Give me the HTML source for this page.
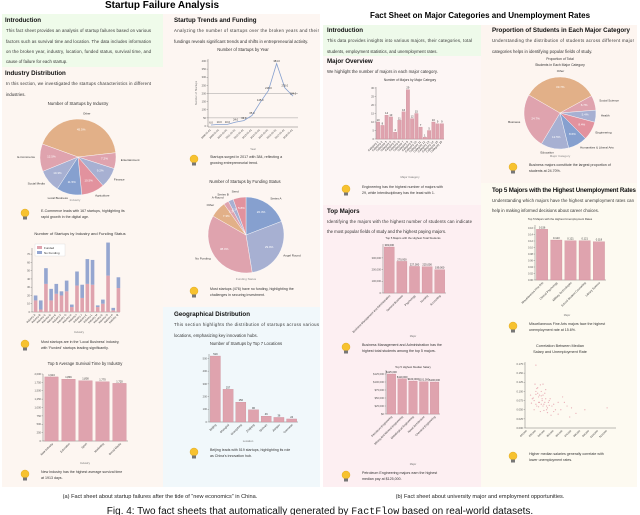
<!DOCTYPE html>
<html><head><meta charset="utf-8">
<style>
html,body{margin:0;padding:0;background:#fff;}
svg{display:block;font-family:"Liberation Sans",sans-serif;}
.h{font-weight:bold;font-size:6.2px;fill:#111;}
.p{font-size:4.3px;fill:#333;}
.s{font-size:3.6px;fill:#333;}
.t{font-size:4.4px;fill:#333;text-anchor:middle;}
.tk{font-size:2.6px;fill:#555;}
</style></head>
<body>
<svg id="root" width="640" height="515" viewBox="0 0 640 515" xmlns="http://www.w3.org/2000/svg">
<rect x="2" y="14" width="161" height="53" fill="#effbea"/>
<rect x="2" y="67" width="161" height="420" fill="#fdf6f1"/>
<rect x="163" y="14" width="157" height="293" fill="#fdf6f2"/>
<rect x="163" y="307" width="157" height="180" fill="#f1f8fb"/>
<rect x="323" y="25" width="158" height="31" fill="#eefaea"/>
<rect x="323" y="56" width="158" height="149" fill="#fdf6f5"/>
<rect x="323" y="205" width="158" height="282" fill="#fdeff2"/>
<rect x="481" y="25" width="156" height="158" fill="#fdf5f0"/>
<rect x="481" y="183" width="156" height="304" fill="#fdfaf1"/>

<text x="162" y="8" font-size="10" font-weight="bold" text-anchor="middle">Startup Failure Analysis</text>
<text x="480" y="18" font-size="8" font-weight="bold" text-anchor="middle">Fact Sheet on Major Categories and Unemployment Rates</text>

<text class="h" x="5" y="22">Introduction</text>
<g class="p">
<text x="6" y="32" textLength="145">This fact sheet provides an analysis of startup failures based on various</text>
<text x="6" y="43" textLength="145">factors such as survival time and location. The data includes information</text>
<text x="6" y="53" textLength="145">on the broken year, industry, location, funded status, survival time, and</text>
<text x="6" y="63">cause of failure for each startup.</text>
</g>
<text class="h" x="5" y="75">Industry Distribution</text>
<g class="p">
<text x="6" y="85" textLength="145">In this section, we investigated the startups characteristics in different</text>
<text x="6" y="96">industries.</text>
</g>
<text class="h" x="174" y="22">Startup Trends and Funding</text>
<g class="p">
<text x="174" y="32" textLength="145">Analyzing the number of startups over the broken years and their</text>
<text x="174" y="43">fundings reveals significant trends and shifts in entrepreneurial activity.</text>
</g>
<text class="h" x="174" y="316">Geographical Distribution</text>
<g class="p">
<text x="174" y="326" textLength="145">This section highlights the distribution of startups across various</text>
<text x="174" y="337">locations, emphasizing key innovation hubs.</text>
</g>

<text class="h" x="327" y="32">Introduction</text>
<g class="p">
<text x="327" y="42" textLength="145">This data provides insights into various majors, their categories, total</text>
<text x="327" y="53">students, employment statistics, and unemployment rates.</text>
</g>
<text class="h" x="327" y="63">Major Overview</text>
<text class="p" x="327" y="73">We highlight the number of majors in each major category.</text>
<text class="h" x="327" y="213">Top Majors</text>
<g class="p">
<text x="327" y="223" textLength="145">Identifying the majors with the highest number of students can indicate</text>
<text x="327" y="233">the most popular fields of study and the highest paying majors.</text>
</g>
<text class="h" x="492" y="32" textLength="138">Proportion of Students in Each Major Category</text>
<g class="p">
<text x="492" y="42" textLength="142">Understanding the distribution of students across different major</text>
<text x="492" y="53">categories helps in identifying popular fields of study.</text>
</g>
<text class="h" x="492" y="192" textLength="144">Top 5 Majors with the Highest Unemployment Rates</text>
<g class="p">
<text x="492" y="202" textLength="142">Understanding which majors have the highest unemployment rates can</text>
<text x="492" y="212">help in making informed decisions about career choices.</text>
</g>

<text x="160" y="498" font-size="5.6" text-anchor="middle" fill="#222">(a) Fact sheet about startup failures after the tide of “new economics” in China.</text>
<text x="480" y="498" font-size="5.6" text-anchor="middle" fill="#222">(b) Fact sheet about university major and employment opportunities.</text>
<text x="320" y="514" font-size="10" text-anchor="middle" fill="#111">Fig. 4: Two fact sheets that automatically generated by <tspan font-family="Liberation Mono">FactFlow</tspan> based on real-world datasets.</text>
<g id="charts"></g>
</svg>
<script>
const industryLabels=["Other","Entertainment","Finance","Agriculture","Local Business","Social Media","E-Commerce"];
const industryPct=[45.5,7.2,9.2,10.5,11.5,10.3,12.5];
const stackCats=["A","B","C","D","E","F","G","H","I","J","K","L","M","N","O","P","Q"];
const stackFunded=[14,3,34,14,22,20,25,6,32,17,34,33,6,10,44,2,29];
const stackNoFund=[6,11,19,14,12,5,13,3,17,16,30,30,2,5,40,3,13];
const survivalCats=["New Industry","Education","Sport","Marketing","Social Media"];
const survivalVals=[1913,1846,1800,1770,1720];
const yearCats=["2008","2009","2010","2011","2012","2013","2014","2015","2016","2017","2018"];
const yearVals=[6,10,10,24,33,65,145,218,384,235,184];
const fundLabels=["Series A","Angel Round","No Funding","Other","A-Round","Series B","Seed"];
const fundPct=[20.3,29.9,38.0,7.3,2.3,2.3,5.8];
const locCats=["Beijing","Shanghai","Guangdong","Zhejiang","Sichuan","Jiangsu","Overseas"];
const locVals=[519,257,156,96,46,36,24];
const majorCatVals=[10,8,14,13,4,11,16,29,12,15,7,1,5,10,9,9];
const propLabels=["Other","Social Science","Health","Engineering","Humanities & Liberal Arts","Education","Business"];
const propPct=[33.7,6.7,5.4,8.4,8.6,12.5,24.7];
const topMajorsVals=[393,270,227,225,199];
const payVals=[125000,110000,103000,101000,100000];
const unempVals=[0.156,0.123,0.121,0.121,0.118];
const scatSalary=[30,24,26,28,30,31,32,33,34,35,36,37,38,40,41,42,43,45,46,48,50,52,55,58,60,65,70,75,85,110,28,30,33,35,36,38,40,42,44,47,29,31,34,37,39,27,25,32,36,41,45,50,62,68,30,33,39,43,55,38];
const scatRate=[17.2,9,8,7.5,10,6,9.5,8.5,7,11.8,6.5,8,9,7,10.5,6,5.5,7.5,8,6,6.5,5,7,5,8.5,6,5.5,4,5,5.5,5,6.5,7,4.5,8.8,6,9.5,5,7,3.5,12,10.8,9,7.5,4.8,8.2,6.8,11,10,8,6.2,4.5,7,3,9.2,5.8,6.5,4.2,3.8,12];

const NS="http://www.w3.org/2000/svg";
const root=document.getElementById('charts');
function mk(tag,attrs,name,parent){
  const el=document.createElementNS(NS,tag);
  for(const k in attrs) el.setAttribute(k,attrs[k]);
  
  
  (parent||root).appendChild(el);return el;
}
function txt(x,y,s,size,name,extra){
  const a=Object.assign({x:x,y:y,'font-size':size,fill:'#333'},extra||{});
  const t=mk('text',a,name);t.textContent=s;return t;
}
const PINK="#dfa3ae",BLUE="#95a6d0",ORANGE="#e2b088",BLUE2="#86a0cf",RED="#e2929e",GREY="#a7b0d2";
function pie(cx,cy,r,vals,cols,labels,start,name){
  const sum=vals.reduce((a,b)=>a+b,0);let a0=start*Math.PI/180;
  vals.forEach((v,i)=>{
    const a1=a0+v/sum*2*Math.PI;
    const large=(a1-a0)>Math.PI?1:0;
    const d=`M${cx},${cy} L${cx+r*Math.cos(a0)},${cy+r*Math.sin(a0)} A${r},${r} 0 ${large} 1 ${cx+r*Math.cos(a1)},${cy+r*Math.sin(a1)} Z`;
    mk('path',{d:d,fill:cols[i],stroke:'#fff','stroke-width':0.4},name+'-slice');
    const m=(a0+a1)/2;
    txt(cx+r*0.7*Math.cos(m),cy+r*0.7*Math.sin(m),v.toFixed(1)+'%',3,name+'-pct',{'text-anchor':'middle',fill:'#fff'});
    const lx=cx+(r+5)*Math.cos(m),ly=cy+(r+5)*Math.sin(m);
    txt(lx,ly,labels[i],3,name+'-label',{'text-anchor':Math.cos(m)>0.1?'start':(Math.cos(m)<-0.1?'end':'middle')});
    a0=a1;
  });
}
function bulb(x,y,l1,l2,name){
  mk('circle',{cx:x,cy:y,r:4,fill:'#f7c22f',stroke:'#d9a21a','stroke-width':0.4},name+'-bulb-icon');
  mk('rect',{x:x-2,y:y+3.5,width:4,height:3,fill:'#777'},name+'-bulb-base');
  txt(x+16,y-1,l1,3.6,name+'-insight-line');
  txt(x+16,y+5,l2,3.6,name+'-insight-line');
}
function axes(x0,x1,yb,yt,name){
  mk('line',{x1:x0,y1:yb,x2:x1,y2:yb,stroke:'#555','stroke-width':0.4},name+'-x-axis');
  mk('line',{x1:x0,y1:yb,x2:x0,y2:yt,stroke:'#555','stroke-width':0.4},name+'-y-axis');
}
function yTicks(x0,yb,yt,max,ticks,fmt,name){
  ticks.forEach(v=>{const y=yb-(v/max)*(yb-yt);
    mk('line',{x1:x0-1.5,y1:y,x2:x0,y2:y,stroke:'#555','stroke-width':0.3},name+'-y-tick');
    txt(x0-2,y+0.9,fmt(v),2.6,name+'-y-tick-label',{'text-anchor':'end',fill:'#555'});});
}
function bars(x0,x1,yb,yt,max,vals,col,name,labels,fmt,rot){
  const n=vals.length,bw=(x1-x0)/n;
  vals.forEach((v,i)=>{const h=v/max*(yb-yt);const bx=x0+i*bw+bw*0.1;
    mk('rect',{x:bx,y:yb-h,width:bw*0.8,height:h,fill:col,stroke:'#c98794','stroke-width':0.3},name+'-bar');
    if(fmt) txt(bx+bw*0.4,yb-h-1,fmt(v),2.6,name+'-value-label',{'text-anchor':'middle'});
    if(labels){const lx=bx+bw*0.5,ly=yb+3;
      txt(lx,ly,labels[i],2.8,name+'-x-tick-label',{'text-anchor':'end',transform:`rotate(${rot||-45} ${lx} ${ly})`});}
  });
}
txt(78,105,"Number of Startups by Industry",4.4,"industry-pie-title",{'text-anchor':'middle'});
pie(78,157,38,industryPct,[ORANGE,PINK,GREY,RED,BLUE2,GREY,PINK],industryLabels,-160,"industry-pie");
txt(75,201,"Industry",3,"industry-pie-axis-title",{'text-anchor':'middle',fill:'#888'});
bulb(25,213,"E-Commerce leads with 167 startups, highlighting its","rapid growth in the digital age.","industry");

txt(80,235,"Number of Startups by Industry and Funding Status",4,"stacked-title",{'text-anchor':'middle'});
axes(32,120,312,248,"stacked");
yTicks(32,312,250,75,[0,10,20,30,40,50,60,70],v=>v,"stacked");
(function(){const n=stackCats.length,bw=88/n,max=75;
 stackCats.forEach((c,i)=>{const bx=33+i*bw+bw*0.15,w=bw*0.7;
  const hf=stackFunded[i]/max*62,hn=stackNoFund[i]/max*62;
  mk('rect',{x:bx,y:312-hf,width:w,height:hf,fill:PINK},'stacked-bar-funded');
  mk('rect',{x:bx,y:312-hf-hn,width:w,height:hn,fill:BLUE},'stacked-bar-no-funding');
  const lx=bx+w/2,ly=315;
  txt(lx,ly,"Industry "+c,2.6,'stacked-x-tick-label',{'text-anchor':'end',transform:`rotate(-45 ${lx} ${ly})`});
 });})();
mk('rect',{x:35,y:244,width:30,height:12,fill:'#fff',stroke:'#ccc','stroke-width':0.3},'stacked-legend');
mk('rect',{x:37,y:246,width:5,height:3,fill:PINK},'legend-swatch-funded');
txt(44,249,"Funded",3,'legend-entry-funded');
mk('rect',{x:37,y:251,width:5,height:3,fill:BLUE},'legend-swatch-no-funding');
txt(44,254,"No Funding",3,'legend-entry-no-funding');
txt(79,333,"Industry",2.8,'stacked-x-axis-title',{'text-anchor':'middle',fill:'#777'});
bulb(25,344,"Most startups are in the 'Local Business' industry,","with 'Funded' startups leading significantly.","stacked");

txt(85,365,"Top 5 Average Survival Time by Industry",4.2,"survival-title",{'text-anchor':'middle'});
axes(43,128,441,374,"survival");
yTicks(43,441,374,2000,[0,250,500,750,1000,1250,1500,1750,2000],v=>v.toLocaleString('en-US'),"survival");
bars(43,128,441,374,2000,survivalVals,PINK,"survival",survivalCats,v=>v.toLocaleString('en-US'));
txt(85,464,"Industry",2.8,'survival-x-axis-title',{'text-anchor':'middle',fill:'#777'});
bulb(25,474,"New Industry has the highest average survival time","at 1913 days.","survival");

txt(243,51,"Number of Startups by Year",4.2,"line-title",{'text-anchor':'middle'});
axes(208,298,127,59,"line");
yTicks(208,126,61,400,[0,50,100,150,200,250,300,350,400],v=>v,"line");
[50,200].forEach(v=>mk('line',{x1:208,x2:298,y1:126-v/400*65,y2:126-v/400*65,stroke:'#888','stroke-width':0.4},'line-ref-line'));
(function(){const n=yearCats.length,xs=i=>211+i*(82/(n-1)),ys=v=>126-v/400*65;
 let d="";yearVals.forEach((v,i)=>{d+=(i?"L":"M")+xs(i)+","+ys(v);});
 mk('path',{d:d,fill:'none',stroke:'#86a0cf','stroke-width':0.8},'line-series');
 yearVals.forEach((v,i)=>{txt(xs(i),ys(v)-1.5,v.toFixed(1),2.6,'line-point-label',{'text-anchor':'middle'});
  const ly=130;txt(xs(i),ly,yearCats[i]+"-01-01",2.5,'line-x-tick-label',{'text-anchor':'end',transform:`rotate(-45 ${xs(i)} ${ly})`});});
})();
txt(253,150,"Year",2.8,'line-x-axis-title',{'text-anchor':'middle',fill:'#777'});
txt(197,93,"Number of Startups",2.8,'line-y-axis-title',{'text-anchor':'middle',fill:'#777',transform:'rotate(-90 197 93)'});
bulb(194,159,"Startups surged in 2017 with 384, reflecting a","growing entrepreneurial trend.","line");

txt(245,183,"Number of Startups by Funding Status",4.2,"funding-title",{'text-anchor':'middle'});
pie(246,235,38,fundPct,[BLUE2,GREY,PINK,ORANGE,PINK,GREY,RED],fundLabels,-90,"funding-pie");
txt(246,280,"Funding Status",3,"funding-axis-title",{'text-anchor':'middle',fill:'#888'});
bulb(194,291,"Most startups (476) have no funding, highlighting the","challenges in securing investment.","funding");

txt(246,345,"Number of Startups by Top 7 Locations",4.2,"geo-title",{'text-anchor':'middle'});
axes(209,298,422,354,"geo");
yTicks(209,422,354,535,[0,100,200,300,400,500],v=>v,"geo");
bars(209,298,422,354,535,locVals,PINK,"geo",locCats,v=>v);
txt(248,442,"Location",2.8,'geo-x-axis-title',{'text-anchor':'middle',fill:'#777'});
bulb(194,452,"Beijing leads with 519 startups, highlighting its role","as China's innovation hub.","geo");

txt(410,81,"Number of Majors by Major Category",3.2,"major-cat-title",{'text-anchor':'middle'});
axes(376,444,139,87,"major-cat");
yTicks(376,139,88,30,[0,5,10,15,20,25,30],v=>v,"major-cat");
bars(376,444,139,88,30,majorCatVals,PINK,"major-cat",majorCatVals.map((v,i)=>"Category "+(i+1)),v=>v);
txt(410,178,"Major Category",2.8,'major-cat-x-axis-title',{'text-anchor':'middle',fill:'#777'});
bulb(346,189,"Engineering has the highest number of majors with","29, while Interdisciplinary has the least with 1.","major-cat");

txt(413,239,"Top 5 Majors with the Highest Total Students",2.8,"top-majors-title",{'text-anchor':'middle'});
axes(383,446,293,244,"top-majors");
yTicks(383,293,247,393,[0,100,200,300],v=>v*1000>0?(v*1000).toLocaleString('en-US'):0,"top-majors");
bars(383,446,293,247,393,topMajorsVals,PINK,"top-majors",["Business Management and Administration","General Business","Psychology","Nursing","Accounting"],v=>(v*1000).toLocaleString('en-US'));
txt(413,337,"Major",2.6,'top-majors-x-axis-title',{'text-anchor':'middle',fill:'#777'});
bulb(346,347,"Business Management and Administration has the","highest total students among the top 5 majors.","top-majors");

txt(413,368,"Top 5 Highest Median Salary",2.8,"pay-title",{'text-anchor':'middle'});
axes(386,440,414,370,"pay");
yTicks(386,414,374,125000,[0,25000,50000,75000,100000,125000],v=>"$"+v.toLocaleString('en-US'),"pay");
bars(386,440,414,374,125000,payVals,PINK,"pay",["Petroleum Engineering","Mining And Mineral Engineering","Metallurgical Engineering","Naval Architecture","Chemical Engineering"],v=>"$"+v.toLocaleString('en-US'));
txt(413,465,"Major",2.6,'pay-x-axis-title',{'text-anchor':'middle',fill:'#777'});
bulb(346,475,"Petroleum Engineering majors earn the highest","median pay at $125,000.","pay");

txt(560,60,"Proportion of Total",3.4,"prop-title",{'text-anchor':'middle'});
txt(560,66,"Students in Each Major Category",3.4,"prop-title",{'text-anchor':'middle'});
pie(560,113,36,propPct,[ORANGE,PINK,GREY,RED,BLUE2,GREY,PINK],propLabels,-150,"prop-pie");
txt(560,157,"Major Category",3,"prop-axis-title",{'text-anchor':'middle',fill:'#888'});
bulb(513,167,"Business majors constitute the largest proportion of","students at 24.70%.","prop");

txt(560,220,"Top 5 Majors with the Highest Unemployment Rates",2.8,"unemp-title",{'text-anchor':'middle'});
axes(535,606,280,225,"unemp");
yTicks(535,280,228,0.16,[0,0.02,0.04,0.06,0.08,0.10,0.12,0.14,0.16],v=>v.toFixed(2),"unemp");
bars(535,606,280,228,0.16,unempVals,PINK,"unemp",["Miscellaneous Fine Arts","Clinical Psychology","Military Technologies","School Student Counseling","Library Science"],v=>v.toFixed(3));
txt(567,316,"Major",2.6,'unemp-x-axis-title',{'text-anchor':'middle',fill:'#777'});
bulb(513,326,"Miscellaneous Fine Arts majors face the highest","unemployment rate at 15.6%.","unemp");

txt(560,347,"Correlation Between Median",3.8,"scatter-title",{'text-anchor':'middle'});
txt(560,353,"Salary and Unemployment Rate",3.8,"scatter-title",{'text-anchor':'middle'});
axes(525,616,428,362,"scatter");
yTicks(525,428,364,17.5,[0,2.5,5,7.5,10,12.5,15,17.5],v=>(v/100).toFixed(3),"scatter");
(function(){const sx=s=>527+(s-20)/100*89,sy=r=>428-r/17.5*64;
 scatSalary.forEach((s,i)=>mk('circle',{cx:sx(s),cy:sy(scatRate[i]),r:0.6,fill:'#e39aa8',opacity:0.8},'scatter-point'));
 [20,30,40,50,60,70,80,90,100,110].forEach(s=>txt(sx(s),431,"$"+s+",000",2.4,'scatter-x-tick-label',{'text-anchor':'end',transform:`rotate(-45 ${sx(s)} 431)`}));
})();
bulb(513,456,"Higher median salaries generally correlate with","lower unemployment rates.","scatter");
</script>
</body></html>
